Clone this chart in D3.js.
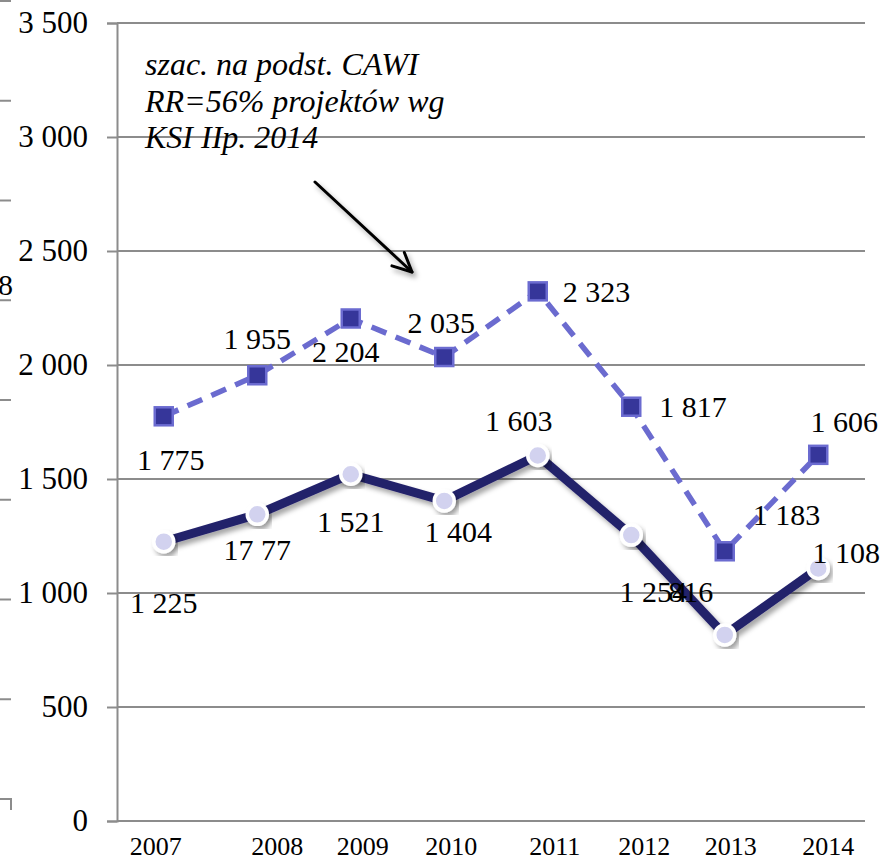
<!DOCTYPE html>
<html>
<head>
<meta charset="utf-8">
<script src="https://cdn.jsdelivr.net/npm/d3@7/dist/d3.min.js"></script>
<style>
  html, body { margin: 0; padding: 0; background: #fff; }
  svg { display: block; }
</style>
</head>
<body>
<svg id="chart" width="885" height="860"></svg>
<script>
// ---- data ----
const years = ["2007", "2008", "2009", "2010", "2011", "2012", "2013", "2014"];
// estimate from CAWI survey (dashed, squares)
const estimateValues = [1775, 1955, 2204, 2035, 2323, 1817, 1183, 1606];
const estimateLabels = ["1 775", "1 955", "2 204", "2 035", "2 323", "1 817", "1 183", "1 606"];
// reported projects (solid, circles)
const reportedValues = [1225, 1345, 1521, 1404, 1603, 1254, 816, 1108];
const reportedLabels = ["1 225", "17 77", "1 521", "1 404", "1 603", "1 254", "816", "1 108"];
const yTicks = [0, 500, 1000, 1500, 2000, 2500, 3000, 3500];
const noteLines = ["szac. na podst. CAWI", "RR=56% projektów wg", "KSI IIp. 2014"];

// ---- layout ----
const FONT = "Liberation Serif, Times New Roman, DejaVu Serif, serif";
const plot = { left: 117, right: 865, top: 23, bottom: 821 };
// label offsets from each point: [dx, dy, anchor]
const estimateLabelPos = [[7, 54, "middle"], [0, -26, "middle"], [-5, 44, "middle"], [-3, -24, "middle"],
                          [25, 11, "start"], [28, 10, "start"], [28, -26, "start"], [26, -23, "middle"]];
const reportedLabelPos = [[0, 71, "middle"], [0, 46, "middle"], [0, 58, "middle"], [14, 41, "middle"],
                          [-19, -25, "middle"], [22, 67, "middle"], [-34, -33, "middle"], [28, -5, "middle"]];
const yearLabelNudge = [-8, 20, 12, 7, 17, 13, 6, 10];

const svg = d3.select("#chart").attr("font-family", FONT);
const defs = svg.append("defs");
const shadow = defs.append("filter").attr("id", "shadow")
  .attr("x", "-20%").attr("y", "-20%").attr("width", "140%").attr("height", "140%");
shadow.append("feDropShadow").attr("dx", 3).attr("dy", 4).attr("stdDeviation", 2.5)
  .attr("flood-color", "#000").attr("flood-opacity", 0.35);

const x = d3.scaleBand().domain(years).range([plot.left, plot.right]);
const cx = d => x(d) + x.bandwidth() / 2;
const y = d3.scaleLinear().domain([0, 3500]).range([plot.bottom, plot.top]);

const fmt = d3.formatLocale({ decimal: ",", thousands: " ", grouping: [3], currency: ["", " zł"] }).format(",");

// fragment of a neighbouring axis at the left edge
const sideAxis = d3.scaleLinear().domain([0, 8]).range([799, 1]);
const sideG = svg.append("g").attr("stroke", "#8c8c8c").attr("stroke-width", 2);
d3.range(0, 9).forEach(i => {
  sideG.append("line").attr("x1", 0).attr("x2", 11).attr("y1", sideAxis(i)).attr("y2", sideAxis(i));
});
sideG.append("line").attr("x1", 11).attr("x2", 11).attr("y1", sideAxis(0) - 1).attr("y2", 810);
svg.append("text").attr("x", 13).attr("y", 295).attr("text-anchor", "end")
  .attr("font-size", 30).text("8");

// gridlines
svg.append("g").selectAll("line").data(yTicks.filter(t => t > 0)).join("line")
  .attr("x1", plot.left).attr("x2", plot.right)
  .attr("y1", d => y(d)).attr("y2", d => y(d))
  .attr("stroke", "#8c8c8c").attr("stroke-width", 2);

// y axis
const yAxis = svg.append("g").attr("transform", `translate(${plot.left},0)`)
  .call(d3.axisLeft(y).tickValues(yTicks).tickFormat(fmt).tickSize(10).tickPadding(19))
  .attr("font-family", FONT).attr("font-size", 31);
yAxis.select(".domain").attr("stroke", "#8c8c8c").attr("stroke-width", 2);
yAxis.selectAll(".tick line").attr("stroke", "#8c8c8c").attr("stroke-width", 2);
yAxis.selectAll(".tick text").attr("fill", "#000");

// x axis
svg.append("line").attr("x1", plot.left).attr("x2", plot.right)
  .attr("y1", plot.bottom).attr("y2", plot.bottom)
  .attr("stroke", "#8c8c8c").attr("stroke-width", 2);
svg.append("g").selectAll("text").data(years).join("text")
  .attr("x", (d, i) => cx(d) + yearLabelNudge[i]).attr("y", 855)
  .attr("text-anchor", "middle").attr("font-size", 26).text(d => d);

// dashed series with square markers
const estPts = years.map((d, i) => [cx(d), y(estimateValues[i])]);
svg.append("path").attr("d", d3.line()(estPts))
  .attr("fill", "none").attr("stroke", "#6b6bcf").attr("stroke-width", 5.5)
  .attr("stroke-dasharray", "16 10").attr("stroke-linejoin", "round");
svg.append("g").selectAll("rect").data(estPts).join("rect")
  .attr("x", d => d[0] - 9).attr("y", d => d[1] - 9).attr("width", 18).attr("height", 18)
  .attr("fill", "#36369a").attr("stroke", "#6b6bd0").attr("stroke-width", 2.5);

// solid series with circle markers
const repPts = years.map((d, i) => [cx(d), y(reportedValues[i])]);
svg.append("path").attr("d", d3.line()(repPts))
  .attr("fill", "none").attr("stroke", "#24216b").attr("stroke-width", 9)
  .attr("stroke-linejoin", "round").attr("filter", "url(#shadow)");
svg.append("g").selectAll("circle").data(repPts).join("circle")
  .attr("cx", d => d[0]).attr("cy", d => d[1]).attr("r", 10)
  .attr("fill", "#d2d2ef").attr("stroke", "#fff").attr("stroke-width", 3.5)
  .attr("filter", "url(#shadow)");

// value labels
function drawLabels(pts, labels, pos) {
  svg.append("g").selectAll("text").data(pts).join("text")
    .attr("x", (d, i) => d[0] + pos[i][0]).attr("y", (d, i) => d[1] + pos[i][1])
    .attr("text-anchor", (d, i) => pos[i][2])
    .attr("font-size", 30).text((d, i) => labels[i]);
}
drawLabels(estPts, estimateLabels, estimateLabelPos);
drawLabels(repPts, reportedLabels, reportedLabelPos);

// note and arrow
svg.append("g").selectAll("text").data(noteLines).join("text")
  .attr("x", 145).attr("y", (d, i) => 75 + i * 36.5)
  .attr("font-size", 32).attr("font-style", "italic").text(d => d);

const a0 = [315, 182], a1 = [412, 272];
const ang = Math.atan2(a1[1] - a0[1], a1[0] - a0[0]);
const head = 21, spread = 0.45;
const arrow = svg.append("g").attr("stroke", "#000").attr("stroke-width", 3)
  .attr("fill", "none").attr("stroke-linecap", "round").attr("filter", "url(#shadow)");
arrow.append("line").attr("x1", a0[0]).attr("y1", a0[1]).attr("x2", a1[0]).attr("y2", a1[1]);
arrow.append("path").attr("d", d3.line()([
  [a1[0] - head * Math.cos(ang - spread), a1[1] - head * Math.sin(ang - spread)],
  a1,
  [a1[0] - head * Math.cos(ang + spread), a1[1] - head * Math.sin(ang + spread)]
])).attr("stroke-linejoin", "round");
</script>
</body>
</html>
